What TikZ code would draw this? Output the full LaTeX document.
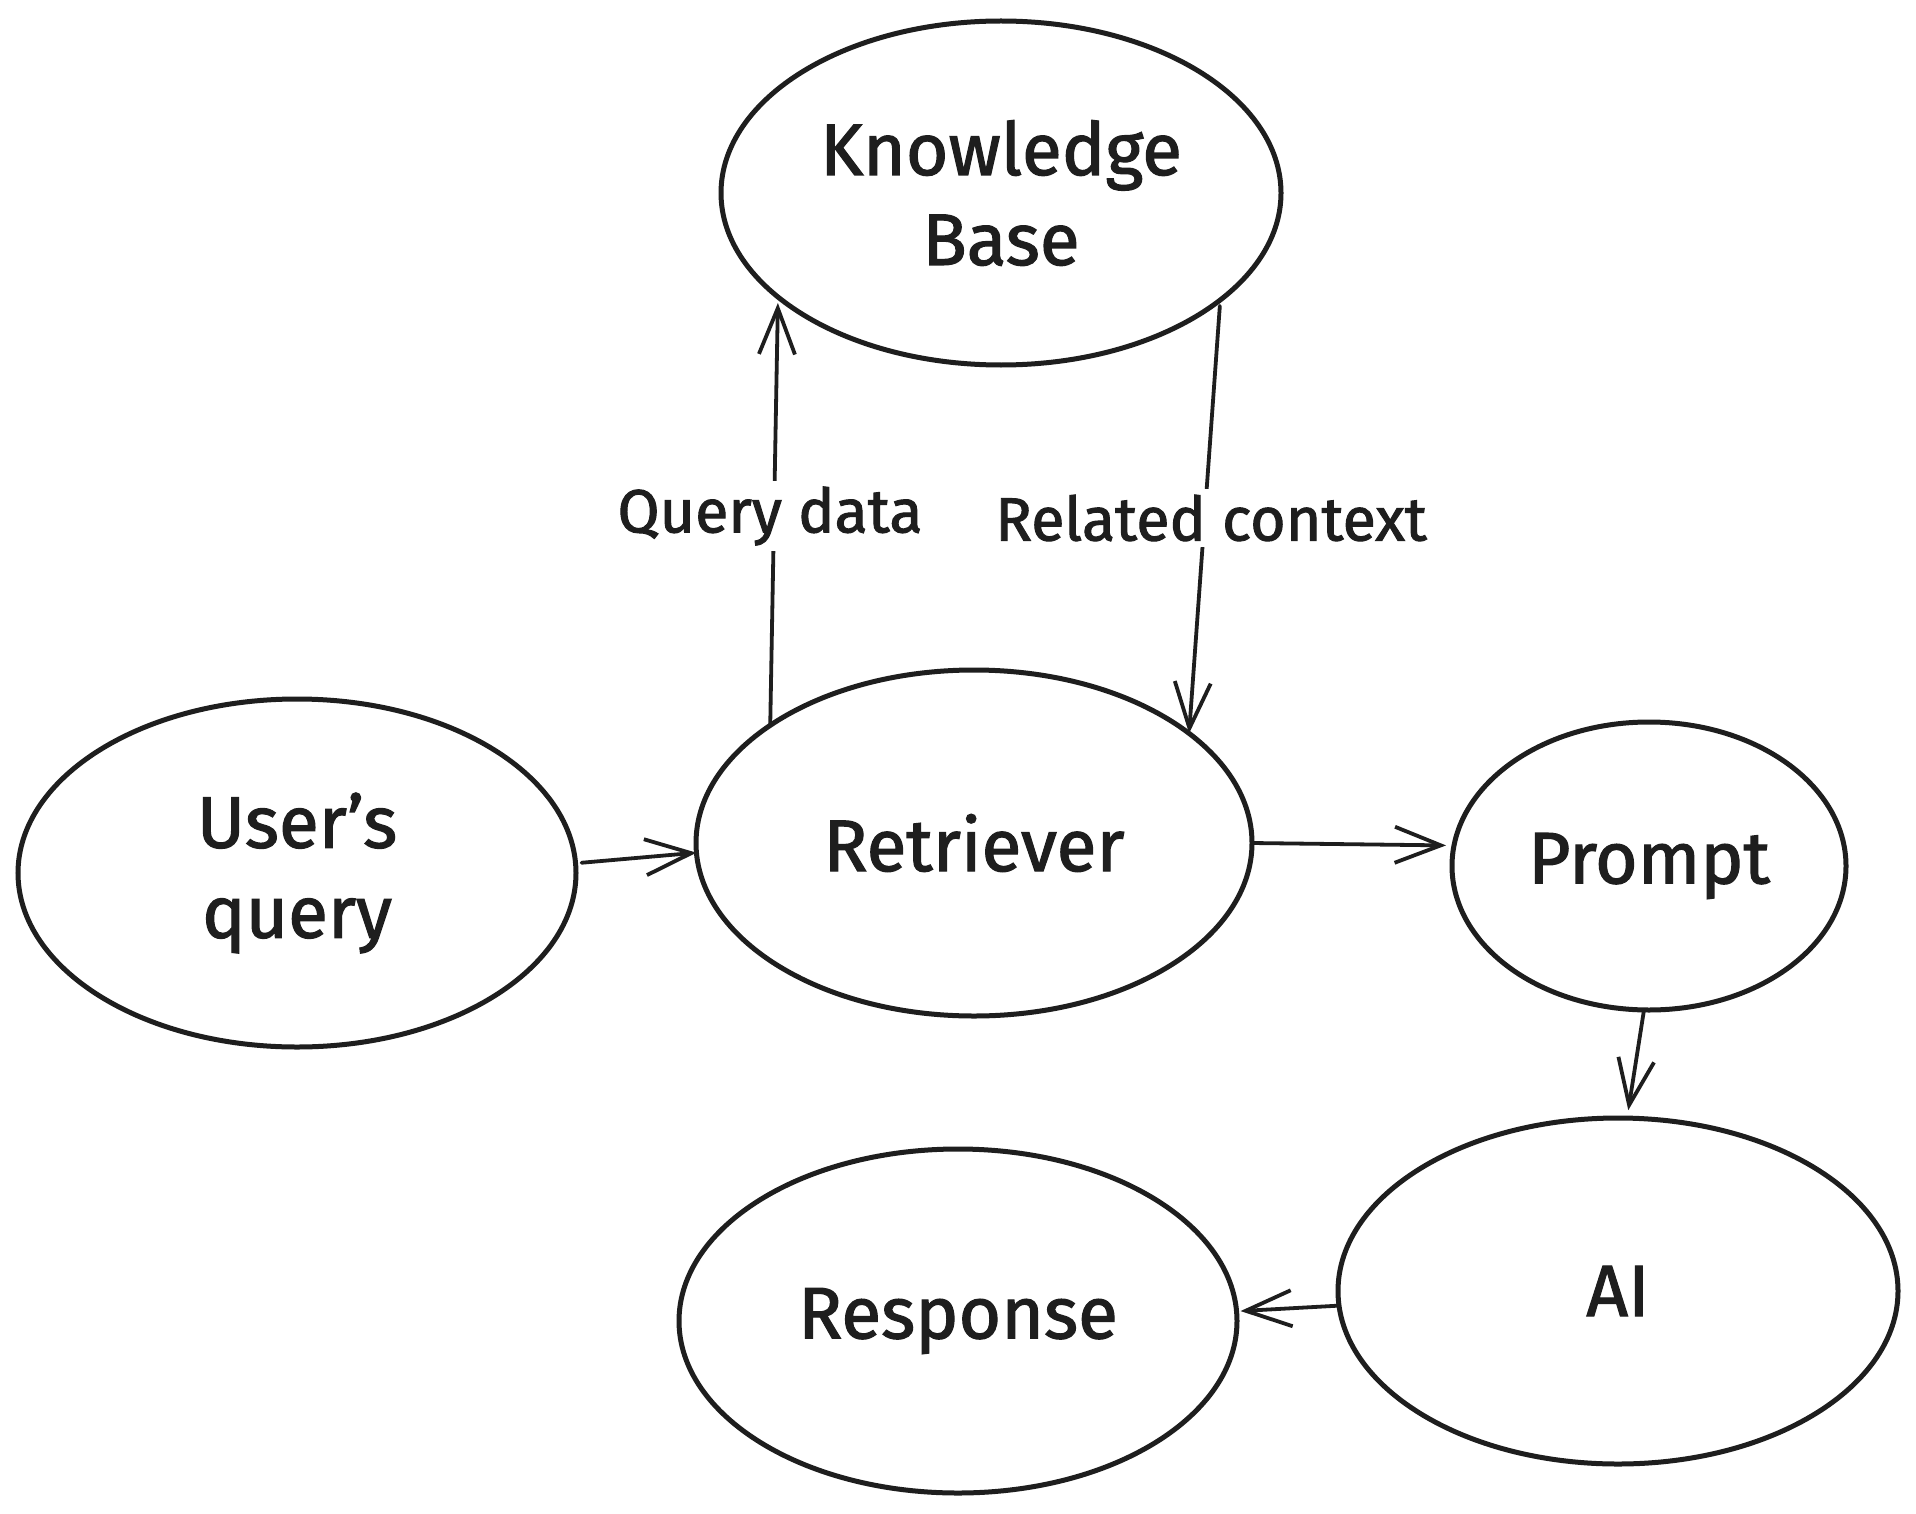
\documentclass[tikz,border=0pt]{standalone}
\usepackage{fontspec}
\setmainfont{Fira Sans}[FakeBold=1.6,AutoFakeBold=1.6]
\usetikzlibrary{shapes.geometric,arrows.meta}
\definecolor{ink}{HTML}{1E1E1E}
\begin{document}
\begin{tikzpicture}[x=1pt,y=-1pt,
  blob/.style={draw=ink, line width=5pt, ellipse, inner sep=0pt, outer sep=0pt, align=center, text=ink, font=\bfseries\fontsize{73}{90}\selectfont},
  arr/.style={draw=ink, line width=3.8pt, line cap=round, -{Straight Barb[length=46pt,width=36pt,line width=3.8pt]}},
  lbl/.style={fill=white, text=ink, inner sep=6pt, font=\bfseries\fontsize{61}{64}\selectfont}]
\useasboundingbox[fill=white] (0,0) rectangle (1916,1514);

\node[blob, minimum width=560pt, minimum height=344pt] (kb) at (1001,193) {Knowledge\\Base};
\node[blob, minimum width=558pt, minimum height=348pt] (uq) at (297,873) {User's\\query};
\node[blob, minimum width=556pt, minimum height=346pt] (ret) at (974,843) {Retriever};
\node[blob, minimum width=394pt, minimum height=288pt] (pr) at (1649,866) {Prompt};
\node[blob, minimum width=560pt, minimum height=346pt] (ai) at (1618,1291) {AI};
\node[blob, minimum width=558pt, minimum height=344pt] (resp) at (958,1321) {Response};

\draw[arr, shorten <=6pt] (uq.2) -- (ret.182);
\draw[arr, shorten >=6pt] (ret.150) -- (kb.205);
\draw[arr, shorten <=6pt] (kb.334) -- (ret.27);
\draw[arr, shorten <=2pt, shorten >=8pt] (ret.0) -- (pr.174);
\draw[arr, shorten >=8pt] (pr.268) -- (ai.87);
\draw[arr, shorten >=4pt] (ai.183) -- (resp.2);

\node[lbl] (qd) at (770,516) {Query data};
\node[lbl] (rc) at (1211,518) {Related context};
\end{tikzpicture}
\end{document}
